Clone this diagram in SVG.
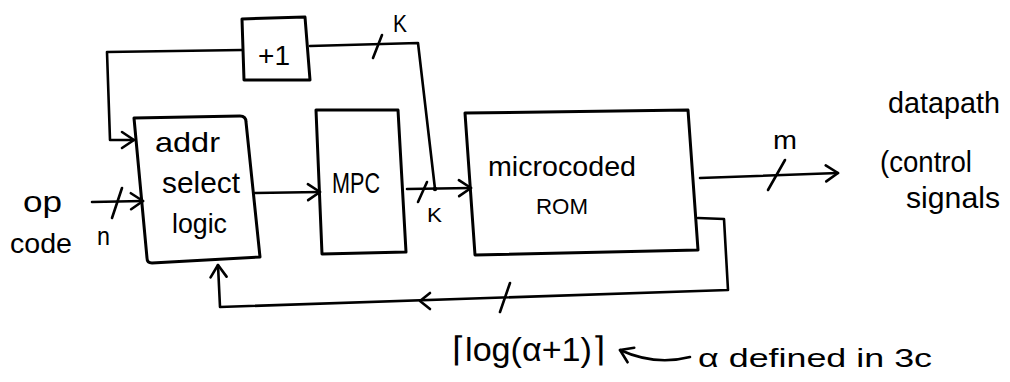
<svg xmlns="http://www.w3.org/2000/svg" width="1010" height="382" viewBox="0 0 1010 382">
  <style>
    .box { fill: none; stroke: #000; stroke-width: 3; stroke-linejoin: round; }
    .ln { fill: none; stroke: #000; stroke-width: 2.6; stroke-linecap: round; stroke-linejoin: round; }
    .t { font-family: "Liberation Sans", Arial, sans-serif; fill: #000; }
  </style>
  <defs>
    <marker id="arr" viewBox="-14 -10 16 20" markerWidth="16" markerHeight="20" refX="0" refY="0" orient="auto" markerUnits="userSpaceOnUse">
      <path d="M -12 -8 L 0 0 L -12 8" fill="none" stroke="#000" stroke-width="2.6" stroke-linecap="round" stroke-linejoin="round"/>
    </marker>
  </defs>
  <rect x="0" y="0" width="1010" height="382" fill="#fff"/>

  <g id="plus1">
    <path class="box" d="M 242 19 L 305 17 L 310 80 L 244 80 Z"/>
    <text class="t" x="258" y="65" font-size="28" textLength="32" lengthAdjust="spacingAndGlyphs">+1</text>
  </g>

  <g id="addr-select-logic">
    <path class="box" d="M 134 118 L 240 116 Q 246 116 246 122 L 260 257 L 152 263 Q 147 263 147 258 Z"/>
    <text class="t" x="155" y="152" font-size="28" textLength="65" lengthAdjust="spacingAndGlyphs">addr</text>
    <text class="t" x="162" y="193" font-size="30" textLength="78" lengthAdjust="spacingAndGlyphs">select</text>
    <text class="t" x="172" y="233" font-size="28" textLength="55" lengthAdjust="spacingAndGlyphs">logic</text>
  </g>

  <g id="mpc">
    <path class="box" d="M 316 110 L 398 110 L 406 252 L 322 254 Z"/>
    <text class="t" x="332" y="193" font-size="30" textLength="48" lengthAdjust="spacingAndGlyphs">MPC</text>
  </g>

  <g id="rom">
    <path class="box" d="M 465 113 L 688 110 L 698 250 L 475 255 Z"/>
    <text class="t" x="488" y="176" font-size="28" textLength="148" lengthAdjust="spacingAndGlyphs">microcoded</text>
    <text class="t" x="536" y="214" font-size="22" textLength="52" lengthAdjust="spacingAndGlyphs">ROM</text>
  </g>

  <g id="connectors">
    <path class="ln" d="M 435 189 L 418 43 L 310 46"/>
    <line class="ln" x1="373" y1="58" x2="382" y2="35"/>
    <path class="ln" d="M 242 50 L 107 52 L 110 140 L 134 140" marker-end="url(#arr)"/>
    <path class="ln" d="M 92 202 L 143 201" marker-end="url(#arr)"/>
    <line class="ln" x1="112" y1="218" x2="122" y2="188"/>
    <path class="ln" d="M 255 193 L 320 192" marker-end="url(#arr)"/>
    <path class="ln" d="M 407 189 L 471 188" marker-end="url(#arr)"/>
    <line class="ln" x1="418" y1="202" x2="427" y2="182"/>
    <circle cx="435" cy="189" r="2.2" fill="#000"/>
    <path class="ln" d="M 700 178 L 838 173" marker-end="url(#arr)"/>
    <line class="ln" x1="768" y1="190" x2="785" y2="160"/>
    <path class="ln" d="M 698 218 L 724 219 L 728 290 L 220 307 L 218 265" marker-end="url(#arr)"/>
    <path class="ln" d="M 430 293 L 420 301 L 430 309"/>
    <line class="ln" x1="500" y1="312" x2="510" y2="283"/>
    <path class="ln" d="M 690 357 Q 655 366 620 350" marker-end="url(#arr)"/>
  </g>

  <g id="labels">
    <text class="t" x="393" y="32" font-size="24" textLength="14" lengthAdjust="spacingAndGlyphs">K</text>
    <text class="t" x="427" y="222" font-size="20" textLength="15" lengthAdjust="spacingAndGlyphs">K</text>
    <text class="t" x="23" y="212" font-size="30" textLength="39" lengthAdjust="spacingAndGlyphs">op</text>
    <text class="t" x="10" y="253" font-size="28" textLength="62" lengthAdjust="spacingAndGlyphs">code</text>
    <text class="t" x="97" y="245" font-size="26" textLength="13" lengthAdjust="spacingAndGlyphs">n</text>
    <text class="t" x="773" y="149" font-size="26" textLength="24" lengthAdjust="spacingAndGlyphs">m</text>
    <text class="t" x="888" y="113" font-size="29" textLength="112" lengthAdjust="spacingAndGlyphs">datapath</text>
    <text class="t" x="880" y="172" font-size="29" textLength="92" lengthAdjust="spacingAndGlyphs">(control</text>
    <text class="t" x="906" y="208" font-size="29" textLength="94" lengthAdjust="spacingAndGlyphs">signals</text>
    <text class="t" x="452" y="361" font-size="34" textLength="153" lengthAdjust="spacingAndGlyphs">⌈log(α+1)⌉</text>
    <text class="t" x="698" y="367" font-size="26" textLength="234" lengthAdjust="spacingAndGlyphs">α defined in 3c</text>
  </g>
</svg>
